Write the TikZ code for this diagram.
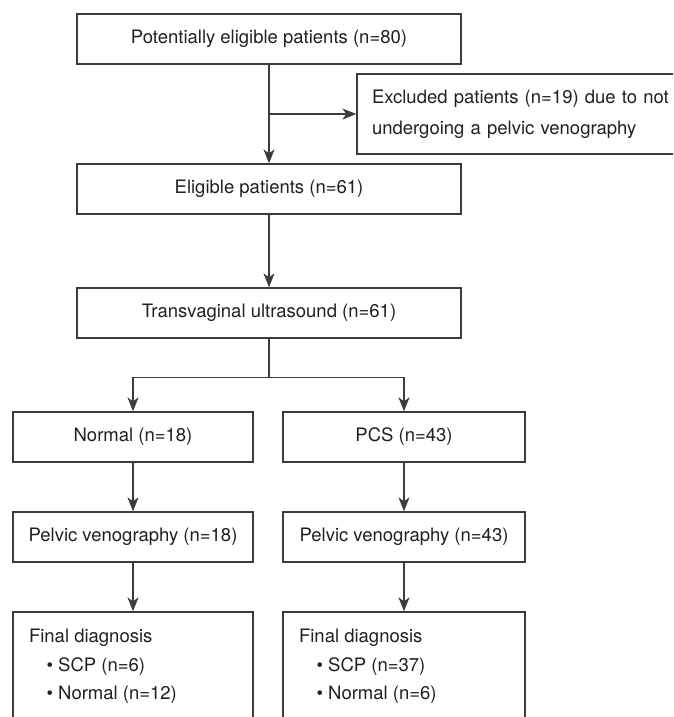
\documentclass[tikz,border=0pt]{standalone}
\usepackage{fontspec}
\setmainfont{TeX Gyre Heros}
\usetikzlibrary{arrows.meta,calc}
\definecolor{ln}{HTML}{3C3C3C}
\definecolor{tx}{HTML}{231F20}
\begin{document}
\begin{tikzpicture}[x=1pt,y=-1pt,
  box/.style={draw=ln, line width=1.3pt, minimum height=50pt, inner sep=0pt, text=tx, font=\fontsize{18.5}{22}\selectfont},
  arr/.style={draw=ln, line width=1.3pt, -{Stealth[length=14pt,width=11pt,inset=4pt]}},
  conn/.style={draw=ln, line width=1.3pt},
  txt/.style={text=tx, font=\fontsize{18.5}{22}\selectfont, inner sep=0pt, anchor=west}]
\useasboundingbox (0,0) rectangle (673,717);
\clip (0,0) rectangle (673,717);
\fill[white] (0,0) rectangle (673,717);

\node[box, minimum width=384pt] (pot) at (269,39) {Potentially eligible patients (n=80)};
\node[box, minimum width=350pt, minimum height=80pt, text width=320pt, align=left, inner xsep=15pt, font=\fontsize{18.5}{31}\selectfont] (exc) at (532,114) {Excluded patients (n=19) due to not\\undergoing a pelvic venography};
\node[box, minimum width=384pt] (eli) at (269,189) {Eligible patients (n=61)};
\node[box, minimum width=384pt] (tvu) at (269,313) {Transvaginal ultrasound (n=61)};
\node[box, minimum width=240pt] (nor) at (133,437) {Normal (n=18)};
\node[box, minimum width=242pt] (pcs) at (404,437) {PCS (n=43)};
\node[box, minimum width=240pt] (pv1) at (133,537) {Pelvic venography (n=18)};
\node[box, minimum width=242pt] (pv2) at (404,537) {Pelvic venography (n=43)};
\node[box, minimum width=240pt, minimum height=130pt] (fd1) at (133,677) {};
\node[box, minimum width=242pt, minimum height=130pt] (fd2) at (404,677) {};

\node[txt] (fd1a) at ($(fd1.north west)+(16.5,26)$) {Final diagnosis};
\node[txt] (fd1b) at ($(fd1.north west)+(34,55)$) {\textbullet\ SCP (n=6)};
\node[txt] (fd1c) at ($(fd1.north west)+(34,83)$) {\textbullet\ Normal (n=12)};
\node[txt] (fd2a) at ($(fd2.north west)+(16.5,26)$) {Final diagnosis};
\node[txt] (fd2b) at ($(fd2.north west)+(34,55)$) {\textbullet\ SCP (n=37)};
\node[txt] (fd2c) at ($(fd2.north west)+(34,83)$) {\textbullet\ Normal (n=6)};

\draw[arr] (pot) -- (eli);
\coordinate (br) at ($(pot.south)!0.5!(eli.north)$);
\draw[arr] (br) -- (br -| exc.west);
\draw[arr] (eli) -- (tvu);
\coordinate (sp) at ($(tvu.south)+(0,39)$);
\draw[conn] (tvu.south) -- (sp);
\draw[arr] (sp) -| (nor.north);
\draw[arr] (sp) -| (pcs.north);
\draw[arr] (nor) -- (pv1);
\draw[arr] (pcs) -- (pv2);
\draw[arr] (pv1) -- (fd1);
\draw[arr] (pv2) -- (fd2);
\end{tikzpicture}
\end{document}
